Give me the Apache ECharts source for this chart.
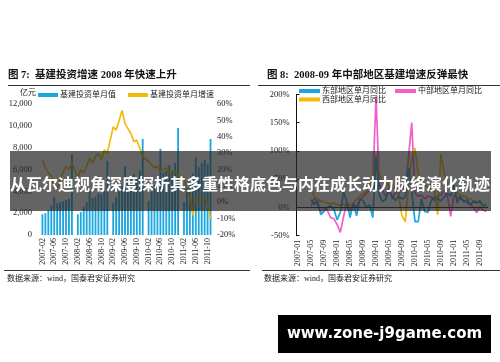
<!DOCTYPE html>
<html><head><meta charset="utf-8">
<script src="https://cdn.jsdelivr.net/npm/echarts@6/dist/echarts.min.js"></script>
<style>html,body{margin:0;padding:0;background:#fff}#c{width:500px;height:362px}</style>
</head><body><div id="c"></div>
<script>
var months = ['2007-01','2007-02','2007-03','2007-04','2007-05','2007-06','2007-07','2007-08','2007-09','2007-10','2007-11','2007-12',
'2008-01','2008-02','2008-03','2008-04','2008-05','2008-06','2008-07','2008-08','2008-09','2008-10','2008-11','2008-12',
'2009-01','2009-02','2009-03','2009-04','2009-05','2009-06','2009-07','2009-08','2009-09','2009-10','2009-11','2009-12',
'2010-01','2010-02','2010-03','2010-04','2010-05','2010-06','2010-07','2010-08','2010-09','2010-10','2010-11','2010-12',
'2011-01','2011-02','2011-03','2011-04','2011-05','2011-06','2011-07','2011-08','2011-09','2011-10','2011-11'];

// 图7: 基建投资单月值 (亿元)
var infraMonthly = [null,1900,2000,2300,2700,3500,2900,3000,3100,3200,3300,7400,
 null,1900,2100,2600,3000,4000,3400,3500,3800,3700,4200,6800,
 null,2900,3500,4000,4500,6300,5000,5100,5600,5300,5900,8800,
 null,3100,3900,4600,5200,7900,5700,5900,6400,5900,6600,9800,
 null,3000,4300,4900,5600,7100,6200,6600,6900,6500,8800];
// 图7: 基建投资单月增速 (%)
var infraGrowth = [null,26,21,18,16,10,8,14,18,22,20,24,
 null,15,20,18,22,27,24,28,30,26,32,30,
 null,46,44,50,56,48,45,42,37,38,33,28,
 null,25,23,21,22,19,20,21,18,17,19,16,
 null,15,7,4,-8,3,1,2,3,-1,-10];

// 图8: 单月同比 (%)
var eastYoY = [null,null,null,null,14,5,12,-13,-7,0,3,-3,
 -22,-9,28,10,-18,8,-15,15,12,0,5,-18,
 90,22,10,15,30,20,12,20,15,18,70,30,
 -25,-25,15,-7,-9,12,18,15,12,18,25,20,
 40,8,20,10,14,5,10,8,12,3,5];
var centralYoY = [null,null,null,null,2,17,5,-9,0,-5,-18,-20,
 -30,-44,-16,10,-7,5,2,14,18,25,30,40,
 196,40,30,20,35,15,28,22,40,30,88,150,
 25,20,22,15,20,18,12,20,22,30,20,-16,
 22,18,15,12,8,5,0,-9,2,-5,-7];
var westYoY = [null,null,null,null,34,19,15,11,10,8,6,8,
 5,4,6,0,4,8,14,20,24,28,40,55,
 88,60,45,50,35,40,30,20,-15,-25,40,88,
 105,60,46,40,35,32,30,-13,95,60,40,
 35,30,25,22,20,18,15,12,10,8,6];

var leftTicks = {min:0,max:12000,interval:2000};
var rightTicks = {min:-20,max:60,interval:10};
var chart8Ticks = {min:-50,max:200,interval:50};

var serif = "'Liberation Serif','Noto Sans CJK SC',serif";
var cjk = "'Liberation Serif','Noto Sans CJK SC',sans-serif";
var txt = '#222';

var chart = echarts.init(document.getElementById('c'), null, {renderer:'canvas'});
chart.setOption({
  backgroundColor:'#fff',
  animation:false,
  legend:[
    {left:38, top:91, itemWidth:20, itemHeight:4, itemGap:12, icon:'rect', padding:0,
     data:['基建投资单月值','基建投资单月增速'], textStyle:{fontSize:8, fontFamily:cjk, color:txt, padding:[0,0,0,-3]}},
    {left:299, top:87, itemWidth:21, itemHeight:4, itemGap:9, icon:'rect', padding:0,
     data:['东部地区单月同比','中部地区单月同比'], textStyle:{fontSize:8, fontFamily:cjk, color:txt, padding:[0,0,0,-3]}},
    {left:299, top:95.5, itemWidth:21, itemHeight:4, icon:'rect', padding:0,
     data:['西部地区单月同比'], textStyle:{fontSize:8, fontFamily:cjk, color:txt, padding:[0,0,0,-3]}}
  ],
  grid:[
    {left:38, width:174, top:104, height:131},
    {left:296.5, width:191.5, top:94.3, height:141.4}
  ],
  xAxis:[
    {gridIndex:0, type:'category', data:months, boundaryGap:true,
     axisLine:{show:false}, axisTick:{show:false},
     axisLabel:{rotate:90, interval:function(i){return i%4===1;}, fontSize:8, fontFamily:serif, color:txt, margin:3}},
    {gridIndex:1, type:'category', data:months, boundaryGap:true,
     axisLine:{show:false}, axisTick:{show:false},
     axisLabel:{rotate:90, interval:function(i){return i%4===0;}, fontSize:8, fontFamily:serif, color:txt, margin:4}}
  ],
  yAxis:[
    {gridIndex:0, type:'value', min:leftTicks.min, max:leftTicks.max, interval:leftTicks.interval,
     axisLine:{show:false}, axisTick:{show:false}, splitLine:{show:false},
     axisLabel:{fontSize:8.5, fontFamily:serif, color:txt, margin:6}},
    {gridIndex:0, type:'value', position:'right', min:rightTicks.min, max:rightTicks.max, interval:rightTicks.interval,
     axisLine:{show:false}, axisTick:{show:false}, splitLine:{show:false},
     axisLabel:{fontSize:8.5, fontFamily:serif, color:txt, margin:5, formatter:'{value}%'}},
    {gridIndex:1, type:'value', min:chart8Ticks.min, max:chart8Ticks.max, interval:chart8Ticks.interval,
     axisLine:{show:true, lineStyle:{color:'#111', width:1}}, axisTick:{show:true, inside:true, length:3, lineStyle:{color:'#111'}},
     splitLine:{show:false},
     axisLabel:{fontSize:8.5, fontFamily:serif, color:txt, margin:7, formatter:'{value}%'}}
  ],
  series:[
    {name:'基建投资单月值', type:'bar', xAxisIndex:0, yAxisIndex:0, data:infraMonthly, barWidth:'62%',
     itemStyle:{color:'#1ba6e0'}},
    {name:'基建投资单月增速', type:'line', xAxisIndex:0, yAxisIndex:1, data:infraGrowth, connectNulls:true,
     showSymbol:false, symbol:'none', lineStyle:{color:'#f5b90a', width:1.7}, itemStyle:{color:'#f5b90a'}},
    {name:'中部地区单月同比', type:'line', xAxisIndex:1, yAxisIndex:2, data:centralYoY, connectNulls:true,
     showSymbol:false, symbol:'none', lineStyle:{color:'#f060c8', width:1.7}, itemStyle:{color:'#f060c8'},
     markLine:{silent:true, symbol:'none', label:{show:false}, lineStyle:{color:'#222', width:1, type:'solid'},
       data:[{yAxis:0}]}},
    {name:'西部地区单月同比', type:'line', xAxisIndex:1, yAxisIndex:2, data:westYoY, connectNulls:true,
     showSymbol:false, symbol:'none', lineStyle:{color:'#f5b90a', width:1.7}, itemStyle:{color:'#f5b90a'}},
    {name:'东部地区单月同比', type:'line', xAxisIndex:1, yAxisIndex:2, data:eastYoY, connectNulls:true,
     showSymbol:false, symbol:'none', lineStyle:{color:'#1aa6e0', width:1.7}, itemStyle:{color:'#1aa6e0'}}
  ],
  graphic:[
    {type:'text', left:8, top:70, style:{text:'图 7:  基建投资增速 2008 年快速上升', font:"bold 10.5px "+cjk, fill:'#111'}},
    {type:'line', shape:{x1:8,y1:85.5,x2:250,y2:85.5}, style:{stroke:'#333', lineWidth:1}},
    {type:'text', left:267, top:70, style:{text:'图 8:  2008-09 年中部地区基建增速反弹最快', font:"bold 10.5px "+cjk, fill:'#111'}},
    {type:'line', shape:{x1:258,y1:85.5,x2:500,y2:85.5}, style:{stroke:'#333', lineWidth:1}},
    {type:'text', left:20, top:89, style:{text:'亿元', font:"8px "+cjk, fill:txt}},
    {type:'line', shape:{x1:4,y1:270.5,x2:250,y2:270.5}, style:{stroke:'#333', lineWidth:1}},
    {type:'line', shape:{x1:262,y1:270.5,x2:500,y2:270.5}, style:{stroke:'#333', lineWidth:1}},
    {type:'text', left:7, top:275, style:{text:'数据来源：wind，国泰君安证券研究', font:"8px "+cjk, fill:txt}},
    {type:'text', left:264, top:275, style:{text:'数据来源：wind，国泰君安证券研究', font:"8px "+cjk, fill:txt}},
    {type:'rect', z:100, shape:{x:10,y:151,width:481,height:60}, style:{fill:'rgba(40,40,40,0.72)'}},
    {type:'text', z:101, x:250, y:184, style:{text:'从瓦尔迪视角深度探析其多重性格底色与内在成长动力脉络演化轨迹',
      font:"bold 16px 'Noto Sans CJK SC',sans-serif", fill:'#fff', textAlign:'center', textVerticalAlign:'middle'}},
    {type:'rect', z:100, shape:{x:278,y:315,width:213,height:38}, style:{fill:'#000'}},
    {type:'text', z:101, x:384.5, y:334, style:{text:'www.zone-j9game.com',
      font:"bold 15px 'DejaVu Sans',sans-serif", fill:'#fff', textAlign:'center', textVerticalAlign:'middle'}}
  ]
});
</script>
</body></html>
